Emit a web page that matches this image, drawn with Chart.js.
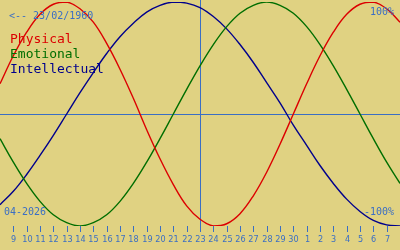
<!DOCTYPE html>
<html>
<head>
<meta charset="utf-8">
<script src="https://cdn.jsdelivr.net/npm/chart.js@4/dist/chart.umd.min.js"></script>
<style>
  html, body { margin: 0; padding: 0; background: #e0d282; }
  #wrap { width: 400px; height: 250px; position: relative; }
</style>
</head>
<body>
<div id="wrap"><canvas id="bio"></canvas></div>
<script>
// days shown: 8 Apr 2026 .. 8 May 2026 (index 0..30)
const dayLabels = ['8','9','10','11','12','13','14','15','16','17','18','19','20','21','22','23',
  '24','25','26','27','28','29','30','1','2','3','4','5','6','7','8'];
const todayIndex = 15;
const birthText = '<-- 23/02/1960';
const monthText = '04-2026';

// values, -1 .. 1
const physical = [0.27,0.52,0.73,0.89,0.98,1.00,0.94,0.82,0.63,0.40,0.14,-0.14,-0.40,-0.63,-0.82,-0.94,
  -1.00,-0.98,-0.89,-0.73,-0.52,-0.27,0.00,0.27,0.52,0.73,0.89,0.98,1.00,0.94,0.82];
const emotional = [-0.22,-0.43,-0.62,-0.78,-0.90,-0.97,-1.00,-0.97,-0.90,-0.78,-0.62,-0.43,-0.22,0.00,0.22,0.43,
  0.62,0.78,0.90,0.97,1.00,0.97,0.90,0.78,0.62,0.43,0.22,0.00,-0.22,-0.43,-0.62];
const intellectual = [-0.81,-0.69,-0.54,-0.37,-0.19,0.00,0.19,0.37,0.54,0.69,0.81,0.91,0.97,1.00,0.99,0.95,
  0.87,0.76,0.62,0.46,0.28,0.10,-0.10,-0.28,-0.46,-0.62,-0.76,-0.87,-0.95,-0.99,-1.00];

const seriesNames = ['Physical', 'Emotional', 'Intellectual'];
const seriesColors = ['#dc0000', '#006e00', '#00008c'];
const inkBlue = '#3a6ec4';

const toPoints = arr => arr.map((v, i) => ({ x: i, y: v }));

const overlay = {
  id: 'overlay',
  beforeDatasetsDraw(chart) {
    const { ctx, scales: { x, y }, chartArea } = chart;
    ctx.save();
    ctx.strokeStyle = inkBlue;
    ctx.lineWidth = 1;
    // zero line
    const y0 = Math.round(y.getPixelForValue(0)) + 0.5;
    ctx.beginPath();
    ctx.moveTo(chartArea.left, y0);
    ctx.lineTo(chartArea.right, y0);
    ctx.stroke();
    // today line
    const xt = Math.round(x.getPixelForValue(todayIndex)) + 0.5;
    ctx.beginPath();
    ctx.moveTo(xt, 0);
    ctx.lineTo(xt, chartArea.bottom + 6);
    ctx.stroke();
    ctx.restore();
  },
  afterDraw(chart) {
    const { ctx, scales: { x, y }, chartArea } = chart;
    ctx.save();
    // day ticks + labels
    ctx.strokeStyle = inkBlue;
    ctx.fillStyle = inkBlue;
    ctx.lineWidth = 1;
    ctx.font = '9px "DejaVu Sans Condensed"';
    ctx.textAlign = 'center';
    ctx.textBaseline = 'middle';
    for (let i = 1; i < dayLabels.length - 1; i++) {
      const px = Math.round(x.getPixelForValue(i)) + 0.5;
      ctx.beginPath();
      ctx.moveTo(px, chartArea.bottom);
      ctx.lineTo(px, chartArea.bottom + 6);
      ctx.stroke();
      ctx.fillText(dayLabels[i], px, chartArea.bottom + 14);
    }
    // corner texts
    ctx.font = '10px "DejaVu Sans Mono"';
    ctx.textAlign = 'left';
    ctx.fillText(birthText, 9, 16);
    ctx.fillText(monthText, 4, 212);
    ctx.textAlign = 'right';
    ctx.fillText('100%', 394, 12);
    ctx.fillText('-100%', 394, 212);
    // series names
    ctx.font = '13px "DejaVu Sans Mono"';
    ctx.textAlign = 'left';
    ctx.textBaseline = 'alphabetic';
    seriesNames.forEach((n, k) => {
      ctx.fillStyle = seriesColors[k];
      ctx.fillText(n, 10, 43 + k * 15);
    });
    ctx.restore();
  }
};

new Chart(document.getElementById('bio'), {
  type: 'line',
  data: {
    datasets: [
      { label: seriesNames[0], data: toPoints(physical), borderColor: seriesColors[0] },
      { label: seriesNames[1], data: toPoints(emotional), borderColor: seriesColors[1] },
      { label: seriesNames[2], data: toPoints(intellectual), borderColor: seriesColors[2] }
    ]
  },
  options: {
    responsive: true,
    maintainAspectRatio: false,
    animation: false,
    layout: { padding: { top: 2, bottom: 24, left: 0, right: 0 } },
    elements: {
      line: { borderWidth: 1.4, tension: 0.4, fill: false },
      point: { radius: 0 }
    },
    plugins: { legend: { display: false }, tooltip: { enabled: false } },
    scales: {
      x: { type: 'linear', min: 0, max: 30, display: false },
      y: { min: -1, max: 1, display: false }
    }
  },
  plugins: [overlay]
});
</script>
</body>
</html>
